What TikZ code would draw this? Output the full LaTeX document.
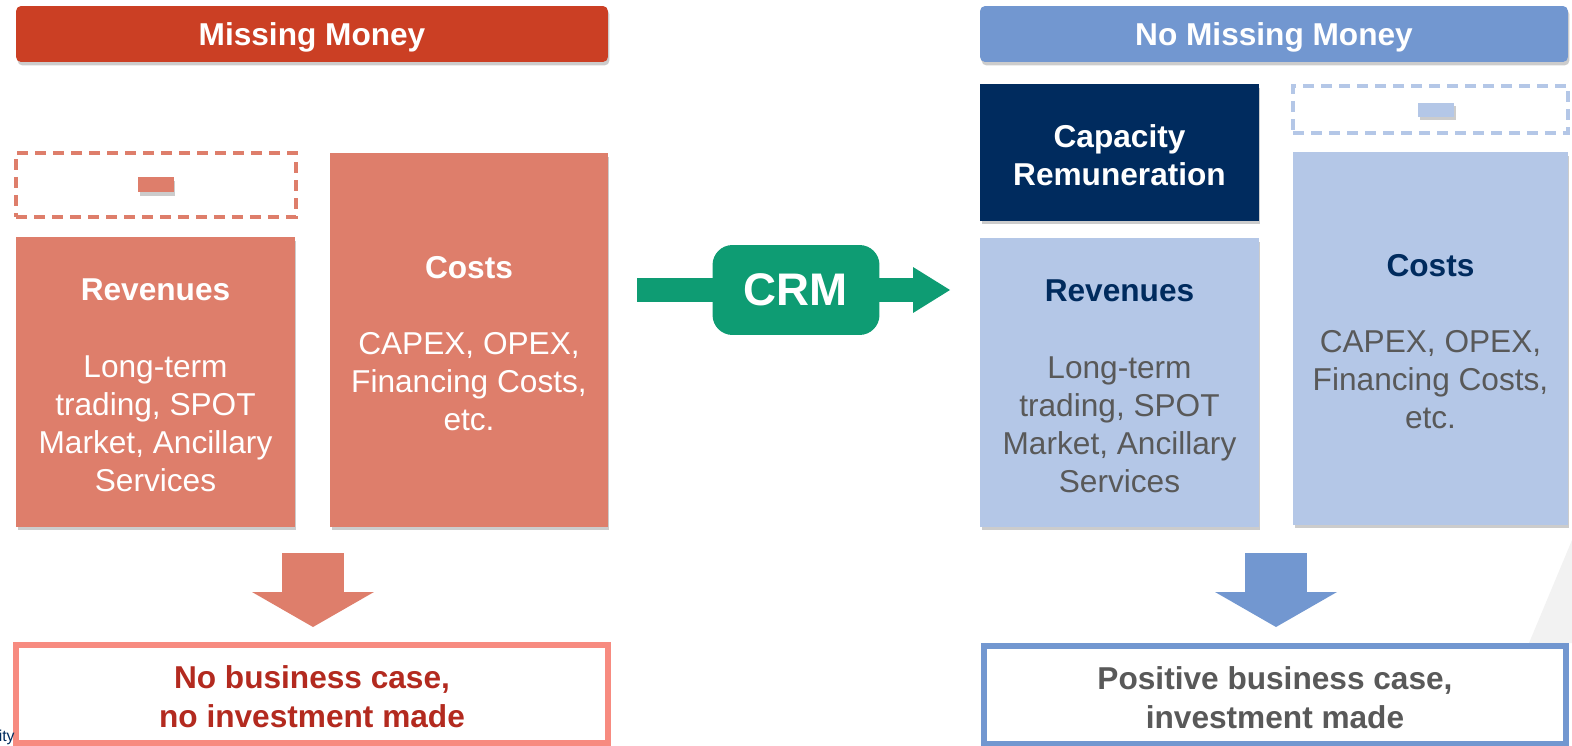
\documentclass[tikz,border=0pt]{standalone}
\usepackage{fontspec}
\setmainfont{Liberation Sans}
\usetikzlibrary{arrows.meta,shadows}

\definecolor{mmred}{HTML}{CB3F24}
\definecolor{salmon}{HTML}{DE7E6B}
\definecolor{darkred}{HTML}{B32A1F}
\definecolor{pinkline}{HTML}{F78B80}
\definecolor{headblue}{HTML}{7297D0}
\definecolor{lightblue}{HTML}{B4C7E7}
\definecolor{navy}{HTML}{002B5E}
\definecolor{textgray}{HTML}{595959}
\definecolor{crmgreen}{HTML}{0E9C73}

% a taller first line, to set the text a little lower in its box
\newcommand{\lift}{\rule{0pt}{16.4pt}}

\begin{document}
\begin{tikzpicture}[x=0.02cm, y=-0.02cm,
	every node/.style={font=\fontsize{18}{21.6}\selectfont, align=center, inner sep=0pt},
	shadowed/.style={drop shadow={shadow xshift=0.03cm, shadow yshift=-0.07cm, opacity=0.2, fill=black}},
	header/.style={shadowed, rounded corners=0.1cm, minimum height=1.12cm, text=white, font=\fontsize{18}{21.6}\selectfont\bfseries},
	infobox/.style={shadowed, minimum width=5.58cm},
	dashbox/.style={line width=0.08cm, dash pattern=on 0.22cm off 0.14cm},
	gapbox/.style={shadowed, minimum width=0.72cm, minimum height=0.3cm},
	result/.style={line width=0.12cm, fill=white, minimum height=1.96cm, font=\fontsize{18}{22}\selectfont\bfseries},
	downarrow/.style={line width=1.24cm, -{Triangle[length=0.7cm, width=2.44cm, line width=0pt]}},
	crmarrow/.style={line width=0.48cm, crmgreen, -{Triangle[length=0.74cm, width=0.92cm, line width=0pt]}}]

	\path[use as bounding box, clip] (0,0) rectangle (1572,746);

	% background wedge, bottom right
	\fill[gray!10] (1529,643) -- (1572,540) -- (1572,643) -- cycle;

	% left side: missing money
	\node[header, fill=mmred, minimum width=11.84cm] (lhead) at (312,34) {\lift Missing Money};

	\node[dashbox, draw=salmon, minimum width=5.6cm, minimum height=1.28cm] (ldash) at (156,185) {};
	\node[gapbox, fill=salmon] (lgap) at (156,185) {};

	\node[infobox, fill=salmon, minimum height=5.8cm, text=white] (lrev) at (155.5,382)
		{\lift\textbf{Revenues}\\[0.78cm]Long-term\\trading, SPOT\\Market, Ancillary\\Services};
	\node[infobox, fill=salmon, minimum width=5.56cm, minimum height=7.48cm, text=white] (lcost) at (469,340)
		{\lift\textbf{Costs}\\[0.76cm]CAPEX, OPEX,\\Financing Costs,\\etc.};

	\coordinate (ldtop) at (313,553);
	\coordinate (ldtip) at (313,627);
	\draw[downarrow, salmon] (ldtop) -- (ldtip);

	\node[result, draw=pinkline, text=darkred, minimum width=11.84cm] (lres) at (312,694)
		{\lift No business case,\\no investment made};

	% the mechanism
	\coordinate (crmin) at (637,290);
	\coordinate (crmout) at (950,290);
	\draw[crmarrow] (crmin) -- (crmout);
	\node[fill=crmgreen, rounded corners=0.4cm, minimum width=3.34cm, minimum height=1.8cm,
		text=white, font=\fontsize{26}{30}\selectfont\bfseries] (crm) at (796,290) {CRM};

	% right side: no missing money
	\node[header, fill=headblue, minimum width=11.76cm] (rhead) at (1274,34) {\lift No Missing Money};

	\node[infobox, fill=navy, minimum height=2.74cm, text=white,
		font=\fontsize{18}{21.6}\selectfont\bfseries] (rcap) at (1119.5,152.5) {\lift Capacity\\Remuneration};

	\node[dashbox, draw=lightblue, minimum width=5.5cm, minimum height=0.94cm] (rdash) at (1430.5,109.5) {};
	\node[gapbox, fill=lightblue, minimum height=0.28cm] (rgap) at (1436,110) {};

	\node[infobox, fill=lightblue, minimum height=5.78cm, text=textgray] (rrev) at (1119.5,382.5)
		{\lift\textbf{\color{navy}Revenues}\\[0.78cm]Long-term\\trading, SPOT\\Market, Ancillary\\Services};
	\node[infobox, fill=lightblue, minimum width=5.5cm, minimum height=7.46cm, text=textgray] (rcost) at (1430.5,338.5)
		{\lift\textbf{\color{navy}Costs}\\[0.76cm]CAPEX, OPEX,\\Financing Costs,\\etc.};

	\coordinate (rdtop) at (1276,553);
	\coordinate (rdtip) at (1276,627);
	\draw[downarrow, headblue] (rdtop) -- (rdtip);

	\node[result, draw=headblue, text=textgray, minimum width=11.64cm] (rres) at (1275,695)
		{\lift Positive business case,\\investment made};

	% cut-off footer text
	\node[anchor=base east, text=navy, font=\fontsize{9}{11}\selectfont] (foot) at (15,741) {sity};
\end{tikzpicture}
\end{document}
